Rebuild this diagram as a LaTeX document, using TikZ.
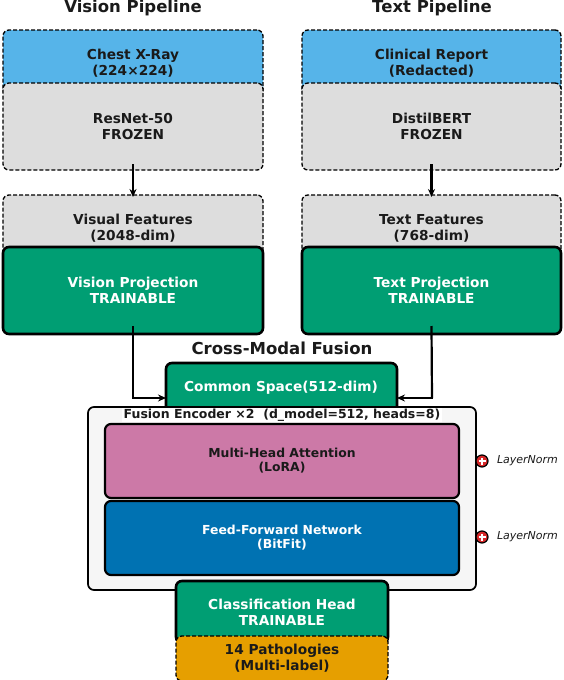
\documentclass[tikz,border=0pt]{standalone}
\usepackage{fontspec}
\setmainfont{DejaVu Sans}
\usetikzlibrary{arrows.meta}
\definecolor{cblue}{HTML}{56B4E9}
\definecolor{cgray}{HTML}{DDDDDD}
\definecolor{cgreen}{HTML}{009E73}
\definecolor{cpink}{HTML}{CC79A7}
\definecolor{cdblue}{HTML}{0072B2}
\definecolor{corange}{HTML}{E69F00}
\definecolor{cfuse}{HTML}{F6F6F6}
\definecolor{ctext}{HTML}{1A1A1A}
\definecolor{cred}{HTML}{D62728}
\tikzset{
  every node/.style={inner sep=0pt, outer sep=0pt},
  base/.style={rounded corners=6pt, anchor=north west, align=center, font=\fontsize{13.7}{16}\selectfont\bfseries},
  dbox/.style={base, draw=black, dash pattern=on 4pt off 2pt, line width=1.3pt, text=ctext},
  tbox/.style={base, draw=black, line width=2.6pt, text=white, fill=cgreen},
  ibox/.style={rounded corners=6pt, anchor=north west, align=center, draw=black, line width=2.2pt, font=\fontsize{12.4}{14}\selectfont\bfseries},
  ttl/.style={font=\fontsize{16.5}{18}\selectfont\bfseries, text=ctext},
  conn/.style={line width=2.2pt},
  arr/.style={conn, -{Stealth[length=8pt,width=7pt]}},
  lnorm/.style={circle, draw=black, line width=1.2pt, fill=cred, minimum size=12pt},
  lntext/.style={anchor=west, font=\fontsize{11}{13}\selectfont\itshape, text=ctext},
}
\begin{document}
\begin{tikzpicture}[x=1pt, y=-1pt]
\useasboundingbox (0,0) rectangle (564,680);
\clip (0,0) rectangle (564,680);
\fill[white] (0,0) rectangle (564,680);

% titles
\node[ttl] (vtitle) at (133,8) {Vision Pipeline};
\node[ttl] (ttitle) at (432,8) {Text Pipeline};
\node[ttl] (ftitle) at (282,348) {Cross-Modal Fusion};

% vision column
\node[dbox, fill=cblue, minimum width=260pt, minimum height=66pt] (xray) at (3,30) {Chest X-Ray\\(224×224)};
\node[dbox, fill=cgray, minimum width=260pt, minimum height=87pt] (resnet) at (3,83) {ResNet-50\\FROZEN};
\node[dbox, fill=cgray, minimum width=260pt, minimum height=66pt] (visfeat) at (3,195) {Visual Features\\(2048-dim)};
\node[tbox, minimum width=260pt, minimum height=87pt] (visproj) at (3,247) {Vision Projection\\TRAINABLE};

% text column
\node[dbox, fill=cblue, minimum width=259pt, minimum height=66pt] (report) at (302,30) {Clinical Report\\(Redacted)};
\node[dbox, fill=cgray, minimum width=259pt, minimum height=87pt] (bert) at (302,83) {DistilBERT\\FROZEN};
\node[dbox, fill=cgray, minimum width=259pt, minimum height=66pt] (txtfeat) at (302,195) {Text Features\\(768-dim)};
\node[tbox, minimum width=259pt, minimum height=87pt] (txtproj) at (302,247) {Text Projection\\TRAINABLE};

% arrows in pipelines
\draw[arr] ([yshift=6pt]resnet.south) -- ([yshift=-2pt]visfeat.north);
\draw[arr] ([yshift=6pt]bert.south) -- ([yshift=-2pt]txtfeat.north);

% common space
\node[tbox, minimum width=231pt, minimum height=60pt] (common) at (166,363) {};
\node[font=\fontsize{13.7}{16}\selectfont\bfseries, text=white] (commontxt) at (281,388) {Common Space(512-dim)};

\coordinate (vbend) at (133,398);
\coordinate (tbend) at (432,398);
\draw[conn] ([yshift=8pt]visproj.south) -- (vbend);
\draw[conn] ([yshift=8pt]txtproj.south) -- (tbend);
\draw[arr] ([xshift=-1pt]vbend) -- (common.west |- vbend);
\draw[arr] ([xshift=1pt]tbend) -- (common.east |- tbend);

% fusion encoder
\node[rounded corners=6pt, anchor=north west, draw=black, line width=1.7pt, fill=cfuse, minimum width=388pt, minimum height=183pt] (fusion) at (88,407) {};
\node[fill=white, inner xsep=2pt, inner ysep=1pt, font=\fontsize{12.5}{14}\selectfont\bfseries, text=ctext] (fuslabel) at (282,415) {Fusion Encoder ×2\ \ (d\_model=512, heads=8)};

\node[ibox, fill=cpink, text=ctext, minimum width=354pt, minimum height=74pt] (mha) at (105,424) {Multi-Head Attention\\(LoRA)};
\node[ibox, fill=cdblue, text=white, minimum width=354pt, minimum height=74pt] (ffn) at (105,501) {Feed-Forward Network\\(BitFit)};

% layernorm markers
\node[lnorm] (ln1) at (482,461) {};
\node[lnorm] (ln2) at (482,537) {};
\foreach \n in {ln1,ln2}{
  \draw[white, line width=2pt] ([xshift=-3.5pt]\n.center) -- ([xshift=3.5pt]\n.center);
  \draw[white, line width=2pt] ([yshift=-3.5pt]\n.center) -- ([yshift=3.5pt]\n.center);
}
\node[lntext] (ln1t) at (497,461) {LayerNorm};
\node[lntext] (ln2t) at (497,537) {LayerNorm};

% classification head
\node[tbox, minimum width=212pt, minimum height=62pt] (cls) at (176,581) {Classification Head\\TRAINABLE};
\node[dbox, fill=corange, minimum width=212pt, minimum height=45pt] (patho) at (176,636) {14 Pathologies\\(Multi-label)};
\end{tikzpicture}
\end{document}
